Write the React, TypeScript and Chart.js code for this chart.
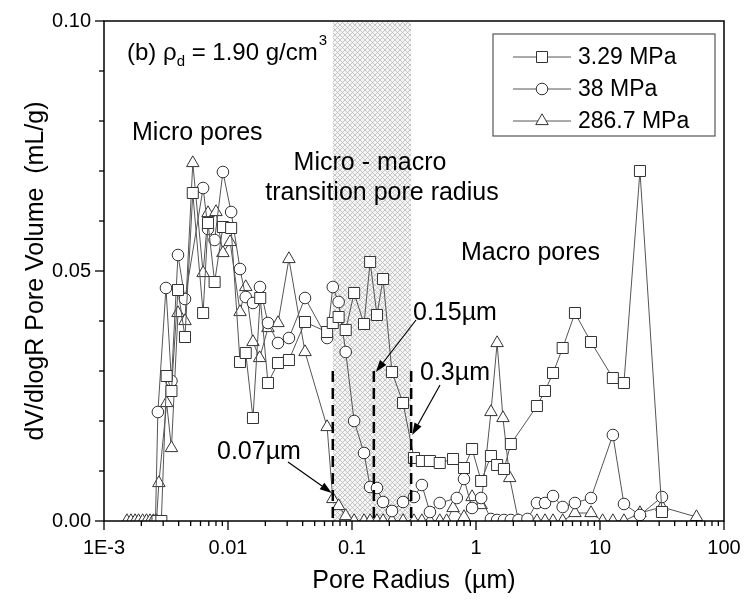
import React, { useEffect, useRef } from 'react';
import { Chart, registerables } from 'chart.js';

Chart.register(...registerables);

// ---------- data ----------
const seriesLabels = ['3.29 MPa', '38 MPa', '286.7 MPa'];

const radiusA = [0.0027, 0.0029, 0.0032, 0.0035, 0.00395, 0.0045, 0.0052, 0.0063, 0.0069, 0.0078, 0.0091, 0.0106, 0.0125, 0.0139, 0.0159, 0.0182, 0.021, 0.0253, 0.031, 0.0418, 0.063, 0.07, 0.078, 0.089, 0.104, 0.125, 0.14, 0.159, 0.178, 0.21, 0.258, 0.316, 0.366, 0.425, 0.51, 0.653, 0.8, 0.93, 1.1, 1.32, 1.48, 1.68, 1.91, 3.1, 3.6, 4.18, 5.0, 6.28, 8.46, 12.7, 15.6, 21, 31.6];
const volumeA = [0, 0, 0.029, 0.026, 0.0462, 0.0368, 0.0656, 0.0416, 0.0596, 0.0478, 0.0588, 0.0586, 0.0318, 0.0336, 0.0206, 0.0446, 0.0276, 0.0316, 0.0322, 0.0398, 0.0378, 0.0396, 0.0408, 0.0382, 0.0456, 0.0394, 0.0518, 0.0412, 0.0484, 0.0298, 0.0236, 0.0126, 0.012, 0.012, 0.0116, 0.0124, 0.0106, 0.0144, 0.008, 0.013, 0.0112, 0.0104, 0.0154, 0.023, 0.026, 0.0296, 0.0346, 0.0416, 0.0358, 0.0286, 0.0276, 0.07, 0.0018];

const radiusB = [0.0026, 0.00272, 0.00316, 0.0035, 0.00395, 0.0045, 0.0063, 0.0069, 0.0078, 0.0091, 0.0106, 0.0125, 0.0139, 0.0159, 0.0181, 0.021, 0.0253, 0.031, 0.0418, 0.063, 0.07, 0.078, 0.089, 0.104, 0.125, 0.14, 0.159, 0.178, 0.21, 0.258, 0.316, 0.366, 0.425, 0.51, 0.7, 0.8, 0.93, 1.1, 1.32, 1.48, 1.68, 1.91, 2.2, 2.6, 3.1, 3.6, 4.18, 5.0, 6.28, 8.46, 12.7, 15.6, 21, 31.6];
const volumeB = [0, 0.0218, 0.0466, 0.028, 0.0532, 0.0444, 0.0666, 0.0584, 0.0562, 0.0698, 0.0618, 0.0504, 0.0448, 0.0436, 0.0468, 0.0396, 0.0356, 0.0366, 0.0446, 0.0366, 0.0468, 0.0438, 0.0338, 0.02, 0.0136, 0.0068, 0.0066, 0.0038, 0.002, 0.0038, 0.0048, 0.0072, 0.0018, 0.0036, 0.0046, 0.0084, 0.0026, 0.0046, 0.0004, 0.0002, 0.0002, 0.0002, 0.0002, 0.0004, 0.0036, 0.0036, 0.005, 0.0028, 0.0036, 0.0046, 0.0172, 0.0034, 0.0012, 0.0048];

const radiusC = [0.00153, 0.00165, 0.00178, 0.0019, 0.00205, 0.0022, 0.00235, 0.0025, 0.00265, 0.00277, 0.0032, 0.0035, 0.00395, 0.0045, 0.0052, 0.0063, 0.0069, 0.008, 0.0091, 0.0104, 0.0125, 0.0139, 0.0159, 0.018, 0.021, 0.0253, 0.031, 0.0418, 0.063, 0.07, 0.078, 0.089, 0.104, 0.125, 0.14, 0.159, 0.178, 0.21, 0.258, 0.316, 0.366, 0.425, 0.51, 0.58, 0.653, 0.8, 0.93, 1.1, 1.32, 1.48, 1.65, 1.87, 2.2, 2.6, 3.1, 3.6, 4.18, 5.0, 6.28, 8.46, 10.5, 12.7, 15.6, 21, 31.6, 60];
const volumeC = [0, 0, 0, 0, 0, 0, 0, 0, 0, 0.0076, 0.0236, 0.0146, 0.0416, 0.04, 0.0716, 0.0496, 0.0616, 0.0618, 0.0536, 0.0558, 0.0418, 0.0468, 0.0358, 0.0326, 0.0386, 0.0396, 0.0524, 0.0338, 0.0188, 0.0044, 0.003, 0.001, 0, 0, 0, 0, 0, 0, 0, 0, 0, 0, 0, 0, 0.0026, 0.0008, 0.0048, 0.0032, 0.0218, 0.0356, 0.0206, 0.0086, 0, 0, 0, 0, 0, 0, 0.0016, 0.0016, 0, 0, 0, 0.0016, 0.0028, 0.0008];

const xTickLabels = ['1E-3', '0.01', '0.1', '1', '10', '100'];
const yTickLabels = ['0.00', '0.05', '0.10'];
const shadeRange = [0.07, 0.3];
const boundaryRadii = [0.07, 0.15, 0.3];
const boundaryLabels = ['0.07µm', '0.15µm', '0.3µm'];

const FONT = '"Liberation Sans", Arial, Helvetica, sans-serif';

function toPoints(xs: number[], ys: number[]) {
  return xs.map((x, i) => ({ x, y: ys[i] }));
}

function makePattern(ctx: CanvasRenderingContext2D) {
  const c = document.createElement('canvas');
  c.width = 5;
  c.height = 5;
  const g = c.getContext('2d')!;
  g.fillStyle = '#f5f5f5';
  g.fillRect(0, 0, 5, 5);
  g.strokeStyle = '#bababa';
  g.lineWidth = 0.8;
  g.beginPath();
  g.moveTo(0, 0); g.lineTo(5, 5);
  g.moveTo(5, 0); g.lineTo(0, 5);
  g.stroke();
  return ctx.createPattern(c, 'repeat')!;
}

function arrow(ctx: CanvasRenderingContext2D, x1: number, y1: number, x2: number, y2: number) {
  const ang = Math.atan2(y2 - y1, x2 - x1);
  const hl = 12, hw = 4;
  ctx.beginPath();
  ctx.moveTo(x1, y1);
  ctx.lineTo(x2 - Math.cos(ang) * hl, y2 - Math.sin(ang) * hl);
  ctx.stroke();
  ctx.beginPath();
  ctx.moveTo(x2, y2);
  ctx.lineTo(x2 - Math.cos(ang) * hl + Math.sin(ang) * hw, y2 - Math.sin(ang) * hl - Math.cos(ang) * hw);
  ctx.lineTo(x2 - Math.cos(ang) * hl - Math.sin(ang) * hw, y2 - Math.sin(ang) * hl + Math.cos(ang) * hw);
  ctx.closePath();
  ctx.fill();
}

function marker(ctx: CanvasRenderingContext2D, style: string, x: number, y: number) {
  ctx.beginPath();
  if (style === 'rect') {
    ctx.rect(x - 5.5, y - 5.5, 11, 11);
  } else if (style === 'circle') {
    ctx.arc(x, y, 5.8, 0, Math.PI * 2);
  } else {
    const r = 7.2;
    ctx.moveTo(x, y - r);
    ctx.lineTo(x + r * 0.866, y + r * 0.5);
    ctx.lineTo(x - r * 0.866, y + r * 0.5);
    ctx.closePath();
  }
  ctx.fillStyle = '#fff';
  ctx.fill();
  ctx.stroke();
}

const decorPlugin = {
  id: 'decor',
  beforeDatasetsDraw(chart: any) {
    const { ctx, chartArea: a, scales } = chart;
    const x = scales.x;
    const x0 = x.getPixelForValue(shadeRange[0]);
    const x1 = x.getPixelForValue(shadeRange[1]);
    ctx.save();
    ctx.fillStyle = makePattern(ctx);
    ctx.fillRect(x0, a.top, x1 - x0, a.bottom - a.top);
    ctx.restore();
  },
  afterDatasetsDraw(chart: any) {
    const { ctx, scales } = chart;
    const x = scales.x, y = scales.y;
    ctx.save();
    ctx.strokeStyle = '#000';
    ctx.lineWidth = 2.5;
    ctx.setLineDash([11, 6]);
    boundaryRadii.forEach((r) => {
      const px = x.getPixelForValue(r);
      ctx.beginPath();
      ctx.moveTo(px, y.getPixelForValue(0.03));
      ctx.lineTo(px, y.getPixelForValue(0));
      ctx.stroke();
    });
    ctx.restore();
  },
  afterDraw(chart: any) {
    const { ctx, chartArea: a, scales } = chart;
    const x = scales.x, y = scales.y;
    ctx.save();
    // frame
    ctx.strokeStyle = '#000';
    ctx.lineWidth = 1.5;
    ctx.strokeRect(a.left, a.top, a.right - a.left, a.bottom - a.top);
    // x ticks
    ctx.lineWidth = 1.3;
    for (let e = -3; e <= 2; e++) {
      for (let m = 1; m <= 9; m++) {
        const v = m * Math.pow(10, e);
        if (v > 100.0001) break;
        const px = x.getPixelForValue(v);
        const len = m === 1 ? 9 : 5;
        ctx.beginPath();
        ctx.moveTo(px, a.bottom);
        ctx.lineTo(px, a.bottom + len);
        ctx.stroke();
      }
    }
    // y ticks
    for (let i = 0; i <= 10; i++) {
      const py = y.getPixelForValue(i * 0.01);
      const len = i % 5 === 0 ? 9 : 5;
      ctx.beginPath();
      ctx.moveTo(a.left, py);
      ctx.lineTo(a.left - len, py);
      ctx.stroke();
    }

    // texts
    ctx.fillStyle = '#000';
    ctx.textBaseline = 'alphabetic';
    ctx.textAlign = 'left';
    let tx = 127;
    const by = 60;
    ctx.font = `24px ${FONT}`;
    ctx.fillText('(b) ρ', tx, by);
    tx += ctx.measureText('(b) ρ').width;
    ctx.font = `15px ${FONT}`;
    ctx.fillText('d', tx, by + 6);
    tx += ctx.measureText('d').width;
    ctx.font = `24px ${FONT}`;
    ctx.fillText(' = 1.90 g/cm', tx, by);
    tx += ctx.measureText(' = 1.90 g/cm').width;
    ctx.font = `15px ${FONT}`;
    ctx.fillText('3', tx + 1, by - 15);

    ctx.font = `25px ${FONT}`;
    ctx.textBaseline = 'middle';
    ctx.fillText('Micro pores', 132, 133);
    ctx.fillText('Macro pores', 461, 253);
    ctx.textAlign = 'center';
    ctx.fillText('Micro - macro', 370, 163);
    ctx.fillText('transition pore radius', 382, 193);
    ctx.textAlign = 'left';
    ctx.fillText(boundaryLabels[0], 217, 452);
    ctx.fillText(boundaryLabels[1], 413, 313);
    ctx.fillText(boundaryLabels[2], 420, 373);

    // arrows
    ctx.strokeStyle = '#000';
    ctx.lineWidth = 1.2;
    ctx.fillStyle = '#000';
    arrow(ctx, 288, 462, x.getPixelForValue(boundaryRadii[0]) - 1, y.getPixelForValue(0.0056));
    arrow(ctx, 416, 320, x.getPixelForValue(boundaryRadii[1]) + 2, y.getPixelForValue(0.0298));
    arrow(ctx, 440, 385, x.getPixelForValue(boundaryRadii[2]) + 1, y.getPixelForValue(0.0172));

    // legend
    const lx = 493, ly = 34, lw = 222, lh = 102;
    ctx.fillStyle = '#fff';
    ctx.fillRect(lx, ly, lw, lh);
    ctx.strokeStyle = '#555';
    ctx.lineWidth = 1.2;
    ctx.strokeRect(lx, ly, lw, lh);
    const styles = ['rect', 'circle', 'triangle'];
    const rows = [57, 89, 121];
    chart.data.datasets.forEach((ds: any, i: number) => {
      const ry = rows[i];
      ctx.strokeStyle = '#555';
      ctx.lineWidth = 1;
      ctx.beginPath();
      ctx.moveTo(513, ry);
      ctx.lineTo(571, ry);
      ctx.stroke();
      ctx.strokeStyle = '#333';
      marker(ctx, styles[i], 542, ry);
      ctx.fillStyle = '#000';
      ctx.font = `23px ${FONT}`;
      ctx.textAlign = 'left';
      ctx.textBaseline = 'middle';
      ctx.fillText(ds.label, 578, ry + 1);
    });
    ctx.restore();
  },
};

function makeDataset(label: string, xs: number[], ys: number[], style: string, radius: number) {
  return {
    label,
    data: toPoints(xs, ys),
    borderColor: '#555',
    borderWidth: 1,
    pointStyle: style,
    pointRadius: radius,
    pointBorderColor: '#333',
    pointBackgroundColor: '#fff',
    pointBorderWidth: 1,
    tension: 0,
    fill: false,
  };
}

export default function App() {
  const ref = useRef<HTMLCanvasElement>(null);
  useEffect(() => {
    const canvas = ref.current!;
    const chart = new Chart(canvas, {
      type: 'line',
      data: {
        datasets: [
          makeDataset(seriesLabels[0], radiusA, volumeA, 'rect', 7.8),
          makeDataset(seriesLabels[1], radiusB, volumeB, 'circle', 5.8),
          makeDataset(seriesLabels[2], radiusC, volumeC, 'triangle', 7.2),
        ],
      },
      options: {
        responsive: false,
        animation: false,
        devicePixelRatio: 1,
        layout: { padding: { top: 21, right: 21, left: 0, bottom: 0 } },
        plugins: { legend: { display: false }, tooltip: { enabled: false } },
        scales: {
          x: {
            type: 'logarithmic',
            min: 0.001,
            max: 100,
            grid: { display: false, drawTicks: false },
            border: { display: false },
            afterFit: (s: any) => { s.height = 84; s.paddingLeft = 0; s.paddingRight = 0; },
            ticks: {
              autoSkip: false,
              maxRotation: 0,
              padding: 15,
              color: '#000',
              font: { family: FONT, size: 20 },
              callback: (v: any) => {
                const l = Math.log10(Number(v));
                if (Math.abs(l - Math.round(l)) < 1e-6) {
                  const idx = Math.round(l) + 3;
                  return xTickLabels[idx] ?? '';
                }
                return '';
              },
            },
            title: {
              display: true,
              text: 'Pore Radius  (µm)',
              color: '#000',
              font: { family: FONT, size: 25 },
              padding: { top: 0, bottom: 9 },
            },
          },
          y: {
            type: 'linear',
            min: 0,
            max: 0.1,
            grid: { display: false, drawTicks: false },
            border: { display: false },
            afterFit: (s: any) => { s.width = 104; s.paddingTop = 0; s.paddingBottom = 0; },
            ticks: {
              stepSize: 0.05,
              padding: 13,
              color: '#000',
              font: { family: FONT, size: 20 },
              callback: (v: any) => yTickLabels[Math.round(Number(v) / 0.05)] ?? '',
            },
            title: {
              display: true,
              text: 'dV/dlogR Pore Volume  (mL/g)',
              color: '#000',
              font: { family: FONT, size: 25 },
              padding: { top: 21, bottom: 0 },
            },
          },
        },
      },
      plugins: [decorPlugin],
    });
    return () => chart.destroy();
  }, []);
  return (
    <div style={{ position: 'absolute', left: 0, top: 0, width: 745, height: 605, background: '#fff' }}>
      <canvas ref={ref} width={745} height={605} />
    </div>
  );
}
